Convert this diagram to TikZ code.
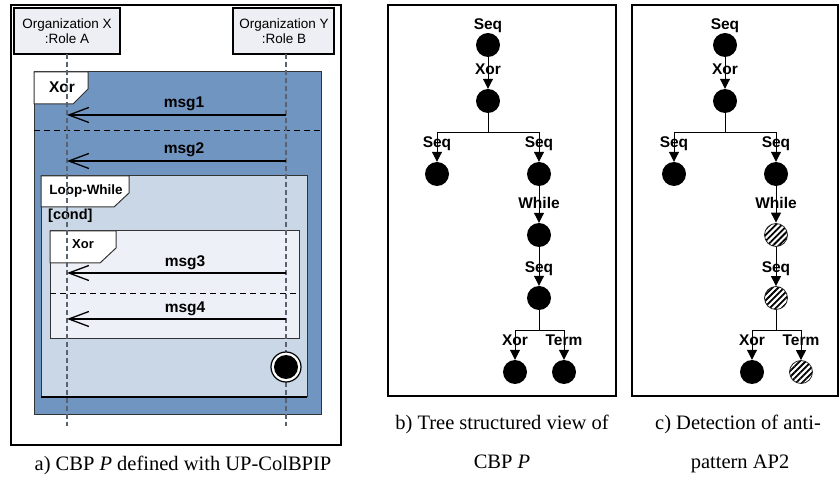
\documentclass[tikz,border=0pt]{standalone}
\usepackage{fontspec}
\setmainfont{Liberation Serif}
\setsansfont{Liberation Sans}
\usetikzlibrary{arrows.meta,patterns.meta}
\definecolor{fragblue}{HTML}{7195C1}
\definecolor{loopblue}{HTML}{C9D7E7}
\definecolor{innerfill}{HTML}{EDF0F6}
\definecolor{orgfill}{HTML}{EDEFF4}
\definecolor{lifegray}{HTML}{5A6270}
\begin{document}
\begin{tikzpicture}[x=1pt,y=-1pt,
  panel/.style={draw=black,line width=2pt},
  orgbox/.style={draw=black,line width=1.2pt,fill=orgfill},
  orgtext/.style={font=\fontsize{13.5}{15}\selectfont\sffamily,align=center,inner sep=0pt},
  lifeline/.style={draw=lifegray,line width=1.5pt,dash pattern=on 5pt off 3pt},
  fragbox/.style={draw=black!80,line width=1pt},
  tabshape/.style={draw=black!80,line width=1pt,fill=white},
  sepline/.style={draw=black,line width=1pt,dash pattern=on 6pt off 4pt},
  msgarrow/.style={draw=black,line width=1.8pt,-{Straight Barb[length=20pt,width=15pt,line width=1.3pt]}},
  msglabel/.style={font=\fontsize{15.5}{18}\selectfont\sffamily\bfseries,anchor=base,inner sep=0pt},
  tablabel/.style={font=\fontsize{15.5}{18}\selectfont\sffamily\bfseries,anchor=base,inner sep=0pt},
  smalltab/.style={font=\fontsize{13}{15}\selectfont\sffamily\bfseries,anchor=base,inner sep=0pt},
  treenode/.style={circle,fill=black,minimum size=24pt,inner sep=0pt},
  hatchnode/.style={circle,draw=black!85,line width=0.8pt,minimum size=23pt,inner sep=0pt,
    pattern={Lines[angle=45,distance=4.2pt,line width=1.8pt]},pattern color=black},
  treeline/.style={draw=black,line width=1pt},
  treearrow/.style={draw=black,line width=1pt,-{Triangle[length=10pt,width=10pt]}},
  treelabel/.style={font=\fontsize{15.5}{18}\selectfont\sffamily\bfseries,anchor=base,inner sep=0pt},
  caption/.style={font=\fontsize{20.5}{24}\selectfont,anchor=base,inner sep=0pt}
]
\useasboundingbox (0,0) rectangle (839,478);

% ---------------- Panel a ----------------
\draw[panel,line width=1.8pt] (11,5) rectangle (341,445);
\draw[orgbox] (14,8) rectangle (120,54);
\draw[orgbox] (233,8) rectangle (334,54);
\node[orgtext] (orgx) at (67,31) {Organization X\\:Role A};
\node[orgtext] (orgy) at (284,31) {Organization Y\\:Role B};

% outer Xor fragment
\fill[fragblue] (34,72) rectangle (321,415);
\draw[fragbox] (34,72) rectangle (321,415);
\draw[tabshape] (34,72) -- (88,72) -- (88,89) -- (73,104) -- (34,104) -- cycle;
\node[tablabel] (xor1) at (62,93) {Xor};
\draw[sepline] (34,131) -- (321,131);

% Loop-While fragment
\draw[fragbox,fill=loopblue] (41,176) rectangle (307,397);
\draw[black,line width=1.6pt] (41,397) -- (307,397);
\draw[tabshape] (41,176) -- (129,176) -- (129,193) -- (114,207) -- (41,207) -- cycle;
\node[smalltab,font=\fontsize{13.5}{15}\selectfont\sffamily\bfseries] (loopw) at (86,195) {Loop-While};
\node[tablabel,font=\fontsize{14.5}{17}\selectfont\sffamily\bfseries,anchor=base west] (cond) at (48,220) {[cond]};

% inner Xor fragment
\draw[fragbox,fill=innerfill] (50,231) rectangle (299,339);
\draw[tabshape] (50,231) -- (116,231) -- (116,248) -- (100,263) -- (50,263) -- cycle;
\node[smalltab] (xor2) at (83,249) {Xor};
\draw[sepline] (50,294) -- (299,294);

% lifelines
\coordinate (lxb) at (67,426);
\coordinate (lyb) at (286,426);
\draw[lifeline] (67,54) -- (lxb);
\draw[lifeline] (286,54) -- (lyb);

% messages
\coordinate (m1s) at (286,115); \coordinate (m1e) at (67,115);
\coordinate (m2s) at (286,161); \coordinate (m2e) at (67,161);
\coordinate (m3s) at (286,273); \coordinate (m3e) at (67,273);
\coordinate (m4s) at (286,319); \coordinate (m4e) at (67,319);
\draw[msgarrow] (m1s) -- (m1e);
\draw[msgarrow] (m2s) -- (m2e);
\draw[msgarrow] (m3s) -- (m3e);
\draw[msgarrow] (m4s) -- (m4e);
\node[msglabel] (l1) at (184,108) {msg1};
\node[msglabel] (l2) at (184,154) {msg2};
\node[msglabel] (l3) at (185,267) {msg3};
\node[msglabel] (l4) at (185,313) {msg4};

% final state
\node[circle,draw=black,line width=1.2pt,fill=white,minimum size=30pt,inner sep=0pt] (fin) at (286,367) {};
\node[circle,fill=black,minimum size=24pt,inner sep=0pt] (finin) at (fin.center) {};

\node[caption] (capa) at (183,471) {a) CBP \textit{P} defined with UP-ColBPIP};

% ---------------- Panel b ----------------
\draw[panel] (388,5) rectangle (616,396);
\node[treenode] (b0) at (488,45) {};
\node[treenode] (b1) at (488,101) {};
\node[treenode] (b2) at (437,174) {};
\node[treenode] (b3) at (539,174) {};
\node[treenode] (b4) at (539,235) {};
\node[treenode] (b5) at (539,298) {};
\node[treenode] (b6) at (515,372) {};
\node[treenode] (b7) at (564,372) {};
\coordinate (bj1) at (488,133);
\coordinate (bj2) at (539,331);
\draw[treearrow] (b0) -- (b1);
\draw[treeline] (b1) -- (bj1);
\draw[treearrow] (bj1) -| (b2);
\draw[treearrow] (bj1) -| (b3);
\draw[treearrow] (b3) -- (b4);
\draw[treearrow] (b4) -- (b5);
\draw[treeline] (b5) -- (bj2);
\draw[treearrow] (bj2) -| (b6);
\draw[treearrow] (bj2) -| (b7);
\node[treelabel] (bt0) at (488,30) {Seq};
\node[treelabel] (bt1) at (488,75) {Xor};
\node[treelabel] (bt2) at (437,148) {Seq};
\node[treelabel] (bt3) at (539,148) {Seq};
\node[treelabel] (bt4) at (539,209) {While};
\node[treelabel] (bt5) at (539,273) {Seq};
\node[treelabel] (bt6) at (515,346) {Xor};
\node[treelabel] (bt7) at (564,346) {Term};
\node[caption] (capb1) at (502,430) {b) Tree structured view of};
\node[caption] (capb2) at (502,469) {CBP \textit{P}};

% ---------------- Panel c ----------------
\draw[panel] (632,5) rectangle (838,396);
\node[treenode] (c0) at (725,45) {};
\node[treenode] (c1) at (725,101) {};
\node[treenode] (c2) at (674,174) {};
\node[treenode] (c3) at (776,174) {};
\node[hatchnode] (c4) at (776,235) {};
\node[hatchnode] (c5) at (776,298) {};
\node[treenode] (c6) at (752,372) {};
\node[hatchnode] (c7) at (801,372) {};
\coordinate (cj1) at (725,133);
\coordinate (cj2) at (776,331);
\draw[treearrow] (c0) -- (c1);
\draw[treeline] (c1) -- (cj1);
\draw[treearrow] (cj1) -| (c2);
\draw[treearrow] (cj1) -| (c3);
\draw[treearrow] (c3) -- (c4);
\draw[treearrow] (c4) -- (c5);
\draw[treeline] (c5) -- (cj2);
\draw[treearrow] (cj2) -| (c6);
\draw[treearrow] (cj2) -| (c7);
\node[treelabel] (ct0) at (725,30) {Seq};
\node[treelabel] (ct1) at (725,75) {Xor};
\node[treelabel] (ct2) at (674,148) {Seq};
\node[treelabel] (ct3) at (776,148) {Seq};
\node[treelabel] (ct4) at (776,209) {While};
\node[treelabel] (ct5) at (776,273) {Seq};
\node[treelabel] (ct6) at (752,346) {Xor};
\node[treelabel] (ct7) at (801,346) {Term};
\node[caption] (capc1) at (738,430) {c) Detection of anti-};
\node[caption] (capc2) at (740,469) {pattern AP2};
\end{tikzpicture}
\end{document}
